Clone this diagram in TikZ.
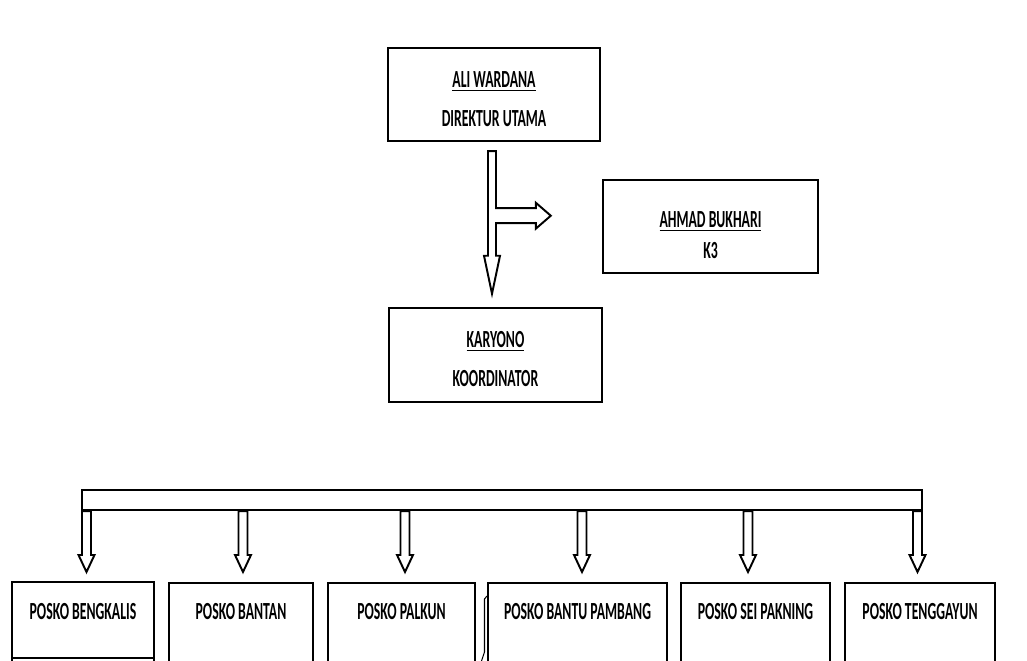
\documentclass[tikz,border=0pt]{standalone}
\usepackage{fontspec}
\setmainfont{Carlito}[FakeStretch=0.56]
\usetikzlibrary{calc}
\tikzset{
  box/.style={draw, line width=1.4pt, fill=white, inner sep=0pt},
  hollow/.style={draw, line width=1.1pt, fill=white, line join=miter},
  lbl/.style={inner sep=0pt, anchor=base, font=\fontsize{14}{16}\selectfont\bfseries},
}
% hollow arrow pointing down: start, tip, shaft half width, head half width, head length
\newcommand{\hollowdown}[5]{%
  \draw[hollow] ($(#1)+(-#3,0)$) -- ($(#2)+(-#3,-#5)$) -- ($(#2)+(-#4,-#5)$) -- (#2)
    -- ($(#2)+(#4,-#5)$) -- ($(#2)+(#3,-#5)$) -- ($(#1)+(#3,0)$) -- cycle;}
% hollow arrow pointing right, open at its start
\newcommand{\hollowright}[2]{%
  \draw[hollow] ($(#1)+(0,-7.5)$) -- ($(#2)+(-15,-7.5)$) -- ($(#2)+(-15,-13)$) -- (#2)
    -- ($(#2)+(-15,13)$) -- ($(#2)+(-15,7.5)$) -- ($(#1)+(0,7.5)$);}

\begin{document}
\begin{tikzpicture}[x=0.02cm, y=-0.02cm]
  \useasboundingbox (0,0) rectangle (1027,661);
  \clip (0,0) rectangle (1027,661);

  % top part
  \node[box, minimum width=4.24cm, minimum height=1.86cm] (direktur) at (494,94.5) {};
  \node[lbl] (direktur-nama) at (494,87.5) {\underline{ALI WARDANA}};
  \node[lbl] (direktur-jab) at (494,127) {DIREKTUR UTAMA};

  \node[box, minimum width=4.3cm, minimum height=1.86cm] (k3) at (710.5,226.5) {};
  \node[lbl] (k3-nama) at (710.5,227.5) {\underline{AHMAD BUKHARI}};
  \node[lbl] (k3-jab) at (710.5,259) {K3};

  \node[box, minimum width=4.26cm, minimum height=1.88cm] (koordinator) at (495.5,355) {};
  \node[lbl] (koordinator-nama) at (495.5,347.5) {\underline{KARYONO}};
  \node[lbl] (koordinator-jab) at (495.5,387) {KOORDINATOR};

  \coordinate (v-top) at ($(direktur.south)+(-2,9)$);
  \coordinate (v-tip) at ($(v-top |- koordinator.north)+(0,-13)$);
  \coordinate (h-start) at ($(v-top)+(3.2,64.5)$);
  \coordinate (h-tip) at ($(k3.west |- h-start)+(-51,0)$);
  \hollowdown{v-top}{v-tip}{4}{8}{38}
  \hollowright{h-start}{h-tip}

  % posko
  \node[box, minimum width=16.8cm, minimum height=0.4cm] (bar) at (502,500) {};
  \foreach \l/\r/\t/\ax/\nm/\txt in {
      12/154/582/86.5/bengkalis/POSKO BENGKALIS,
      169/313/583/243/bantan/POSKO BANTAN,
      328/475/583/405/palkun/POSKO PALKUN,
      488/667/583/582/bantu/POSKO BANTU PAMBANG,
      681/830/583/748/sei/POSKO SEI PAKNING,
      845/995/583/917.5/tenggayun/POSKO TENGGAYUN}{
    \draw[line width=1.4pt, fill=white] (\l,\t) rectangle (\r,668) coordinate (\nm);
    \node[lbl] (\nm-txt) at ({(\l+\r)/2},619.5) {\txt};
    \coordinate (tip-\nm) at (\ax,572);
    \hollowdown{bar.south -| tip-\nm}{tip-\nm}{4.5}{8}{17}
  }
  \draw[line width=1.4pt] (12,658) -- (154,658);
  \draw[line width=0.6pt] (487,596) -- (484.5,599) -- (484.5,652) -- (481.5,661);
\end{tikzpicture}
\end{document}
